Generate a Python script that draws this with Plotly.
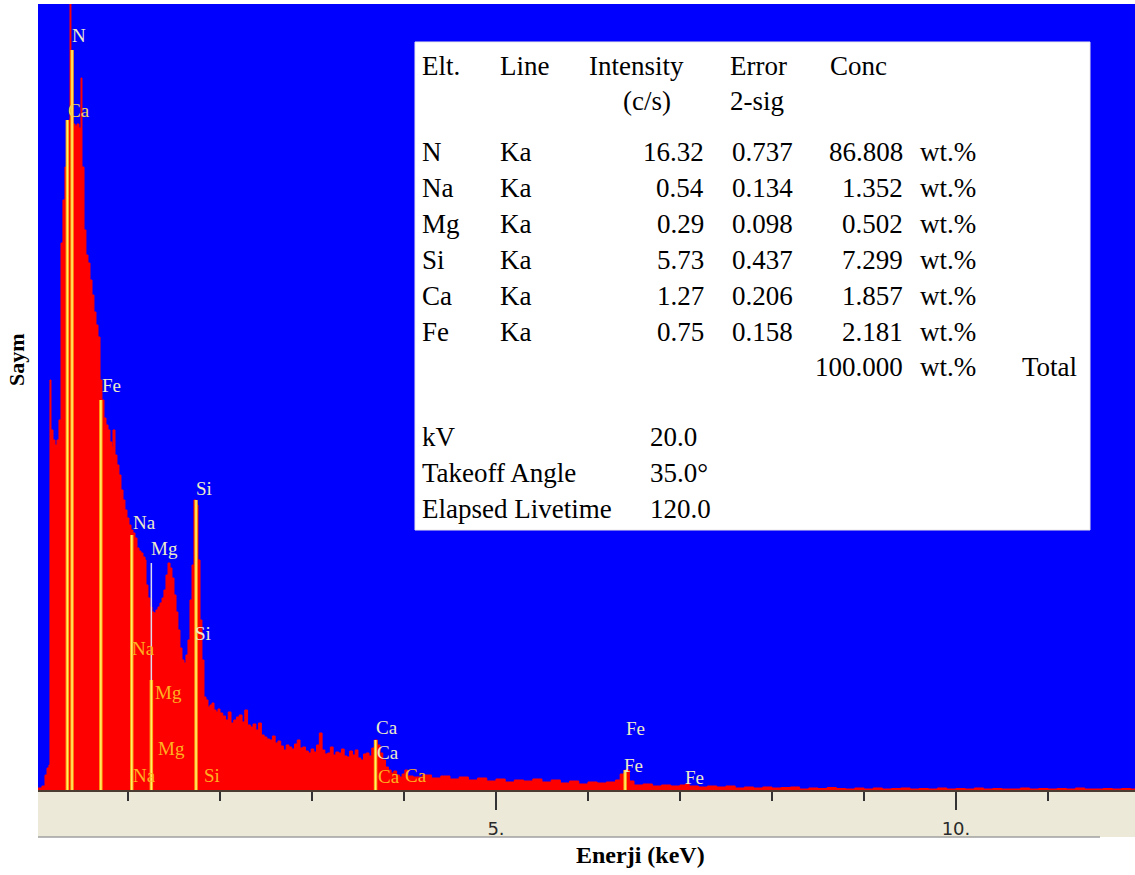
import plotly.graph_objects as go

# ---------------- data ----------------
energy = [0.022, 0.065, 0.098, 0.120, 0.141, 0.152, 0.163, 0.185, 0.207, 0.228,
          0.250, 0.272, 0.293, 0.315, 0.337, 0.359, 0.370, 0.380, 0.402, 0.424,
          0.446, 0.467, 0.489, 0.500, 0.522, 0.543, 0.565, 0.587, 0.609, 0.630,
          0.652, 0.674, 0.696, 0.717, 0.739, 0.761, 0.783, 0.804, 0.826, 0.837,
          0.859, 0.880, 0.902, 0.924, 0.946, 0.967, 0.989, 1.011, 1.033, 1.054,
          1.076, 1.098, 1.120, 1.141, 1.163, 1.185, 1.196, 1.217, 1.239, 1.261,
          1.283, 1.304, 1.326, 1.348, 1.370, 1.391, 1.413, 1.435, 1.457, 1.478,
          1.500, 1.522, 1.543, 1.565, 1.587, 1.609, 1.630, 1.652, 1.674, 1.696,
          1.717, 1.739, 1.761, 1.783, 1.804, 1.826, 1.848, 1.870, 1.891, 1.913,
          1.935, 1.957, 1.978, 2.000,
          2.03, 2.06, 2.09, 2.12, 2.15, 2.18, 2.21, 2.24, 2.27, 2.30,
          2.33, 2.36, 2.39, 2.42, 2.45, 2.48, 2.51, 2.54, 2.57, 2.60,
          2.63, 2.66, 2.69, 2.72, 2.75, 2.78, 2.81, 2.84, 2.87, 2.90,
          2.93, 2.96, 2.99, 3.02, 3.05, 3.08, 3.11, 3.14, 3.17, 3.20,
          3.23, 3.26, 3.29, 3.32, 3.35, 3.38, 3.41, 3.44, 3.47, 3.50,
          3.53, 3.56, 3.59, 3.62, 3.65, 3.68, 3.71, 3.74, 3.77, 3.80,
          3.83, 3.86, 3.89, 3.92, 3.95, 3.98, 4.01, 4.04,
          4.1, 4.2, 4.3, 4.4, 4.5, 4.6, 4.7, 4.8, 4.9, 5.0,
          5.1, 5.2, 5.3, 5.4, 5.5, 5.6, 5.7, 5.8, 5.9, 6.0,
          6.1, 6.2, 6.3, 6.35, 6.40, 6.45, 6.5, 6.6, 6.7, 6.8,
          6.9, 7.0, 7.06, 7.1, 7.2, 7.3, 7.4, 7.5, 7.6, 7.7,
          7.8, 7.9, 8.0, 8.1, 8.2, 8.3, 8.4, 8.5, 8.6, 8.7,
          8.8, 8.9, 9.0, 9.1, 9.2, 9.3, 9.4, 9.5, 9.6, 9.7,
          9.8, 9.9, 10.0, 10.1, 10.2, 10.3, 10.4, 10.5, 10.6, 10.7,
          10.8, 10.9, 11.0, 11.1, 11.2, 11.3, 11.4, 11.5, 11.6, 11.7,
          11.8, 11.9, 12.0]
counts = [4, 8, 30, 44, 50, 820, 720, 700, 690, 700,
          740, 1094, 1180, 1246, 1334, 1340, 1700, 1338, 1332, 1328,
          1332, 1324, 1424, 1246, 1120, 1070, 1054, 1020, 990, 956,
          930, 906, 820, 780, 744, 730, 720, 696, 686, 720,
          670, 650, 630, 600, 580, 560, 544, 530, 520, 514,
          504, 484, 478, 474, 466, 460, 410, 384, 366, 356,
          354, 360, 366, 374, 384, 400, 430, 454, 444, 424,
          390, 356, 320, 284, 260, 254, 270, 300, 380, 450,
          580, 570, 460, 340, 260, 186, 180, 166, 170, 174,
          160, 156, 162, 154,
          148, 140, 156, 134, 140, 146, 150, 136, 160, 130,
          126, 132, 120, 134, 110, 106, 102, 100, 108, 94,
          98, 88, 80, 90, 86, 82, 92, 100, 84, 86,
          78, 74, 82, 76, 90, 114, 80, 72, 74, 86,
          70, 76, 74, 82, 68, 66, 78, 70, 80, 64,
          60, 72, 74, 68, 84, 100, 90, 74, 60, 46,
          40, 34, 38, 30, 26, 32, 40, 28,
          26, 30, 24, 28, 22, 26, 20, 24, 18, 22,
          16, 20, 18, 22, 16, 20, 14, 18, 12, 16,
          14, 16, 20, 32, 40, 18, 10, 12, 8, 10,
          8, 10, 12, 8, 6, 8, 6, 8, 4, 6,
          4, 6, 4, 5, 6, 2, 4, 3, 5, 3,
          2, 4, 2, 4, 2, 3, 4, 2, 3, 2,
          4, 2, 3, 2, 4, 2, 3, 2, 2, 4,
          2, 3, 2, 3, 2, 4, 2, 2, 3, 2,
          3, 2, 2]

# KLM marker lines (energy keV, top in counts)
marker_energy = [0.341, 0.392, 0.705, 1.041, 1.254, 1.254, 1.740, 3.691, 6.404]
marker_top = [1340, 1480, 780, 510, 454, 220, 580, 100, 40]
marker_core = ["#FFF06A", "#FFF06A", "#FFF06A", "#FFF06A", "#DCDCF0", "#FFF06A",
               "#FFF06A", "#FFF06A", "#FFF06A"]
marker_halo = ["#FFA010", "#FFA010", "#FFA010", "#FFA010", None, "#FFA010",
               "#FFA010", "#FFA010", "#FFA010"]

# marker labels
label_text = ["N", "Ca", "Fe", "Na", "Mg", "Si", "Na", "Si", "Mg", "Mg", "Na", "Si",
              "Ca", "Ca", "Ca", "Ca", "Fe", "Fe", "Fe"]
label_x = [0.391, 0.348, 0.717, 1.054, 1.250, 1.739, 1.043, 1.728, 1.293, 1.326,
           1.054, 1.826, 3.696, 3.707, 3.717, 4.011, 6.413, 6.391, 7.054]
label_y = [1510, 1360, 810, 536, 484, 604, 284, 314, 196, 84, 30, 30,
           126, 76, 28, 30, 124, 50, 26]
LIGHT, ORANGE, YEL = "#ECEAC8", "#FFB020", "#F3D25A"
label_color = [LIGHT, YEL, LIGHT, LIGHT, LIGHT, LIGHT, ORANGE, LIGHT, ORANGE, ORANGE,
               ORANGE, ORANGE, LIGHT, LIGHT, ORANGE, ORANGE, LIGHT, LIGHT, LIGHT]

# quantification table
elements = ["N", "Na", "Mg", "Si", "Ca", "Fe"]
line_names = ["Ka", "Ka", "Ka", "Ka", "Ka", "Ka"]
intensity = [16.32, 0.54, 0.29, 5.73, 1.27, 0.75]
error_2sig = [0.737, 0.134, 0.098, 0.437, 0.206, 0.158]
conc = [86.808, 1.352, 0.502, 7.299, 1.857, 2.181]
conc_total = 100.000
kv = 20.0
takeoff = 35.0
livetime = 120.0

x_major_ticks = [5, 10]
x_major_labels = ["5.", "10."]
x_minor_ticks = [1, 2, 3, 4, 6, 7, 8, 9, 11]

# ---------------- layout geometry ----------------
W, H = 1135, 875
ML, MR, MT, MB = 38, 0, 4, 85
PW, PH = W - ML - MR, H - MT - MB
Y_TOP = 1572


def px(xp):
    return (xp - ML) / PW


def py(yp):
    return (H - MB - yp) / PH


fig = go.Figure()

fig.add_trace(go.Scatter(
    x=energy, y=counts, mode="lines",
    line=dict(color="#FF0000", width=1, shape="hv"),
    fill="tozeroy", fillcolor="#FF0000", hoverinfo="skip", showlegend=False))

for e, top, core, halo in zip(marker_energy, marker_top, marker_core, marker_halo):
    if halo:
        fig.add_trace(go.Scatter(x=[e, e], y=[0, top], mode="lines",
                                 line=dict(color=halo, width=3.5),
                                 hoverinfo="skip", showlegend=False))
    fig.add_trace(go.Scatter(x=[e, e], y=[0, top], mode="lines",
                             line=dict(color=core, width=1.5),
                             hoverinfo="skip", showlegend=False))

for t, x, y, c in zip(label_text, label_x, label_y, label_color):
    fig.add_annotation(x=x, y=y, text=t, showarrow=False, xanchor="left",
                       yanchor="middle", xshift=-2,
                       font=dict(family="Liberation Serif", size=19, color=c))

# axis band (beige) under the plot area
fig.add_shape(type="rect", xref="paper", yref="paper", x0=0, x1=1,
              y0=py(837), y1=0, fillcolor="#ECE9D8", line=dict(width=0),
              layer="below")
fig.add_shape(type="line", xref="paper", yref="paper", x0=0, x1=px(1100),
              y0=py(837), y1=py(837), line=dict(color="#A0A0A0", width=1.5))

# table box
fig.add_shape(type="rect", xref="paper", yref="paper", x0=px(415), x1=px(1090),
              y0=py(530), y1=py(42), fillcolor="#FFFFFF",
              line=dict(color="#E8E8E8", width=1), layer="above")

TF = dict(family="Liberation Serif", size=27, color="#000000")


def cell(xp, yp, text, anchor="left"):
    fig.add_annotation(xref="paper", yref="paper", x=px(xp), y=py(yp), text=text,
                       showarrow=False, xanchor=anchor, yanchor="middle", font=TF)


cell(420, 66, "Elt.")
cell(498, 66, "Line")
cell(587, 66, "Intensity")
cell(728, 66, "Error")
cell(828, 66, "Conc")
cell(621, 101, "(c/s)")
cell(728, 101, "2-sig")
row_y = [152, 188, 224, 260, 296, 332]
for yy, el, ln, it, er, cc in zip(row_y, elements, line_names, intensity, error_2sig, conc):
    cell(420, yy, el)
    cell(498, yy, ln)
    cell(706, yy, f"{it:.2f}", "right")
    cell(730, yy, f"{er:.3f}")
    cell(905, yy, f"{cc:.3f}", "right")
    cell(918, yy, "wt.%")
cell(905, 367, f"{conc_total:.3f}", "right")
cell(918, 367, "wt.%")
cell(1020, 367, "Total")
cell(420, 437, "kV")
cell(648, 437, f"{kv:.1f}")
cell(420, 473, "Takeoff Angle")
cell(648, 473, f"{takeoff:.1f}°")
cell(420, 509, "Elapsed Livetime")
cell(648, 509, f"{livetime:.1f}")

# axis titles
fig.add_annotation(xref="paper", yref="paper", x=px(640), y=py(855),
                   text="<b>Enerji (keV)</b>", showarrow=False, xanchor="center",
                   yanchor="middle",
                   font=dict(family="Liberation Serif", size=24, color="#000000"))
fig.add_annotation(xref="paper", yref="paper", x=px(16), y=py(360),
                   text="<b>Saym</b>", showarrow=False, textangle=-90,
                   xanchor="center", yanchor="middle",
                   font=dict(family="Liberation Serif", size=22, color="#000000"))

fig.update_layout(
    width=W, height=H,
    margin=dict(l=ML, r=MR, t=MT, b=MB, pad=0),
    paper_bgcolor="#FFFFFF", plot_bgcolor="#0000FF",
    showlegend=False,
    xaxis=dict(range=[0.022, 11.946], showgrid=False, zeroline=False,
               showline=True, linecolor="#4A3C30", linewidth=2,
               tickmode="array", tickvals=x_major_ticks, ticktext=x_major_labels,
               ticks="outside", ticklen=18, tickwidth=2, tickcolor="#333333",
               ticklabelstandoff=3,
               tickfont=dict(family="DejaVu Sans", size=18, color="#2A2A2A"),
               minor=dict(tickmode="array", tickvals=x_minor_ticks, ticks="outside",
                          ticklen=9, tickwidth=2, tickcolor="#333333"),
               fixedrange=True),
    yaxis=dict(range=[0, Y_TOP], showgrid=False, zeroline=False, showline=False,
               showticklabels=False, ticks="", fixedrange=True),
)

fig.write_html("out.html", config={"displayModeBar": False},
               post_script="document.body.style.margin='0px';"
                           "document.body.style.overflow='hidden';")
